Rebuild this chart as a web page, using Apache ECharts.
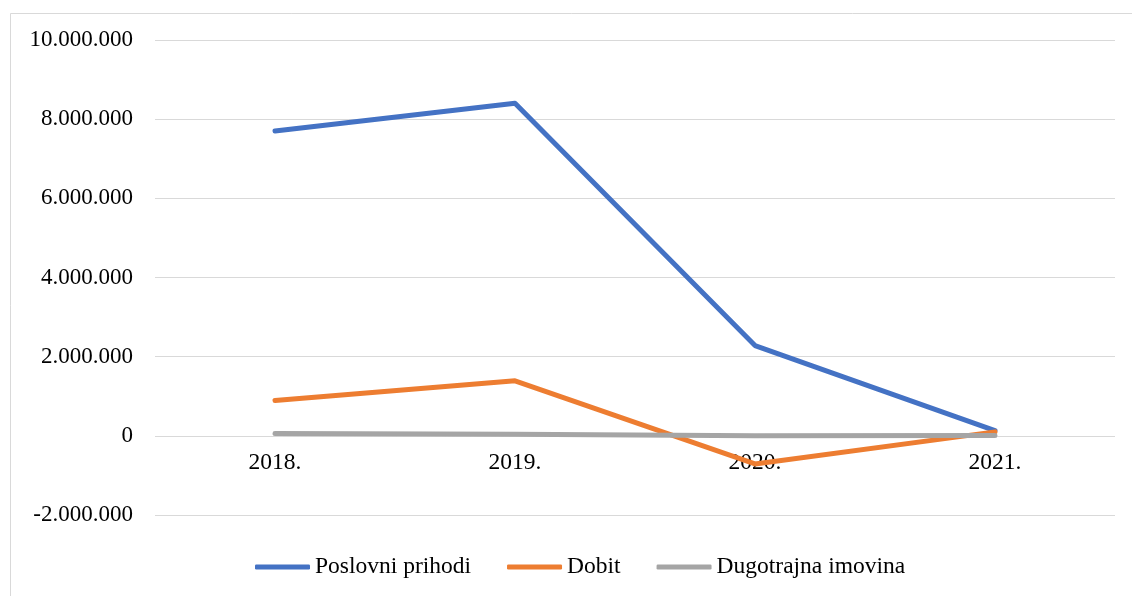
<!DOCTYPE html>
<html>
<head>
<meta charset="utf-8">
<script src="https://cdn.jsdelivr.net/npm/echarts@6/dist/echarts.min.js"></script>
<style>
html,body{margin:0;padding:0;background:#fff;}
#c{width:1132px;height:596px;}
</style>
</head>
<body>
<div id="c"></div>
<script>
var categories = ['2018.', '2019.', '2020.', '2021.'];
var poslovniPrihodi = [7700000, 8400000, 2280000, 130000];
var dobit = [890000, 1390000, -710000, 100000];
var dugotrajnaImovina = [60000, 40000, 0, 10000];
var yTicks = { min: -2000000, max: 10000000, interval: 2000000 };

var font = '"Liberation Serif", "Times New Roman", serif';
function fmt(v) {
  var neg = v < 0;
  var s = String(Math.abs(v)).replace(/\B(?=(\d{3})+(?!\d))/g, '.');
  return (neg ? '-' : '') + s;
}
var gridTop = 40, gridBottom = 81;
var plotH = 596 - gridTop - gridBottom;
var zeroOffset = -plotH * (0 - yTicks.min) / (yTicks.max - yTicks.min);

var chart = echarts.init(document.getElementById('c'));
chart.setOption({
  backgroundColor: '#fff',
  animation: false,
  graphic: [{
    type: 'rect', left: 8, top: 11,
    shape: { x: 0.5, y: 0.5, width: 1140, height: 600 },
    style: { fill: 'none', stroke: '#d9d9d9', lineWidth: 1 },
    silent: true, z: -1
  }],
  grid: { left: 155, right: 17, top: gridTop, bottom: gridBottom, containLabel: false },
  legend: {
    bottom: 12, left: 250,
    itemWidth: 55, itemHeight: 5, itemGap: 36,
    icon: 'roundRect',
    textStyle: { fontFamily: font, fontSize: 23.5, color: '#000' },
    data: ['Poslovni prihodi', 'Dobit', 'Dugotrajna imovina']
  },
  xAxis: {
    type: 'category', data: categories, boundaryGap: true,
    offset: zeroOffset,
    axisLine: { show: false, onZero: false },
    axisTick: { show: false },
    axisLabel: { fontFamily: font, fontSize: 23.5, color: '#000', margin: 15 },
    splitLine: { show: false }
  },
  yAxis: {
    type: 'value', min: yTicks.min, max: yTicks.max, interval: yTicks.interval,
    axisLine: { show: false }, axisTick: { show: false },
    axisLabel: { fontFamily: font, fontSize: 23, color: '#000', margin: 22, formatter: fmt },
    splitLine: { lineStyle: { color: '#d9d9d9', width: 1 } }
  },
  series: [
    { name: 'Poslovni prihodi', type: 'line', data: poslovniPrihodi, showSymbol: false, symbol: 'none',
      itemStyle: { color: '#4472c4' }, lineStyle: { color: '#4472c4', width: 5, cap: 'round', join: 'round' }, z: 3 },
    { name: 'Dobit', type: 'line', data: dobit, showSymbol: false, symbol: 'none',
      itemStyle: { color: '#ed7d31' }, lineStyle: { color: '#ed7d31', width: 5, cap: 'round', join: 'round' }, z: 4 },
    { name: 'Dugotrajna imovina', type: 'line', data: dugotrajnaImovina, showSymbol: false, symbol: 'none',
      itemStyle: { color: '#a5a5a5' }, lineStyle: { color: '#a5a5a5', width: 5, cap: 'round', join: 'round' }, z: 5 }
  ]
});
</script>
</body>
</html>
